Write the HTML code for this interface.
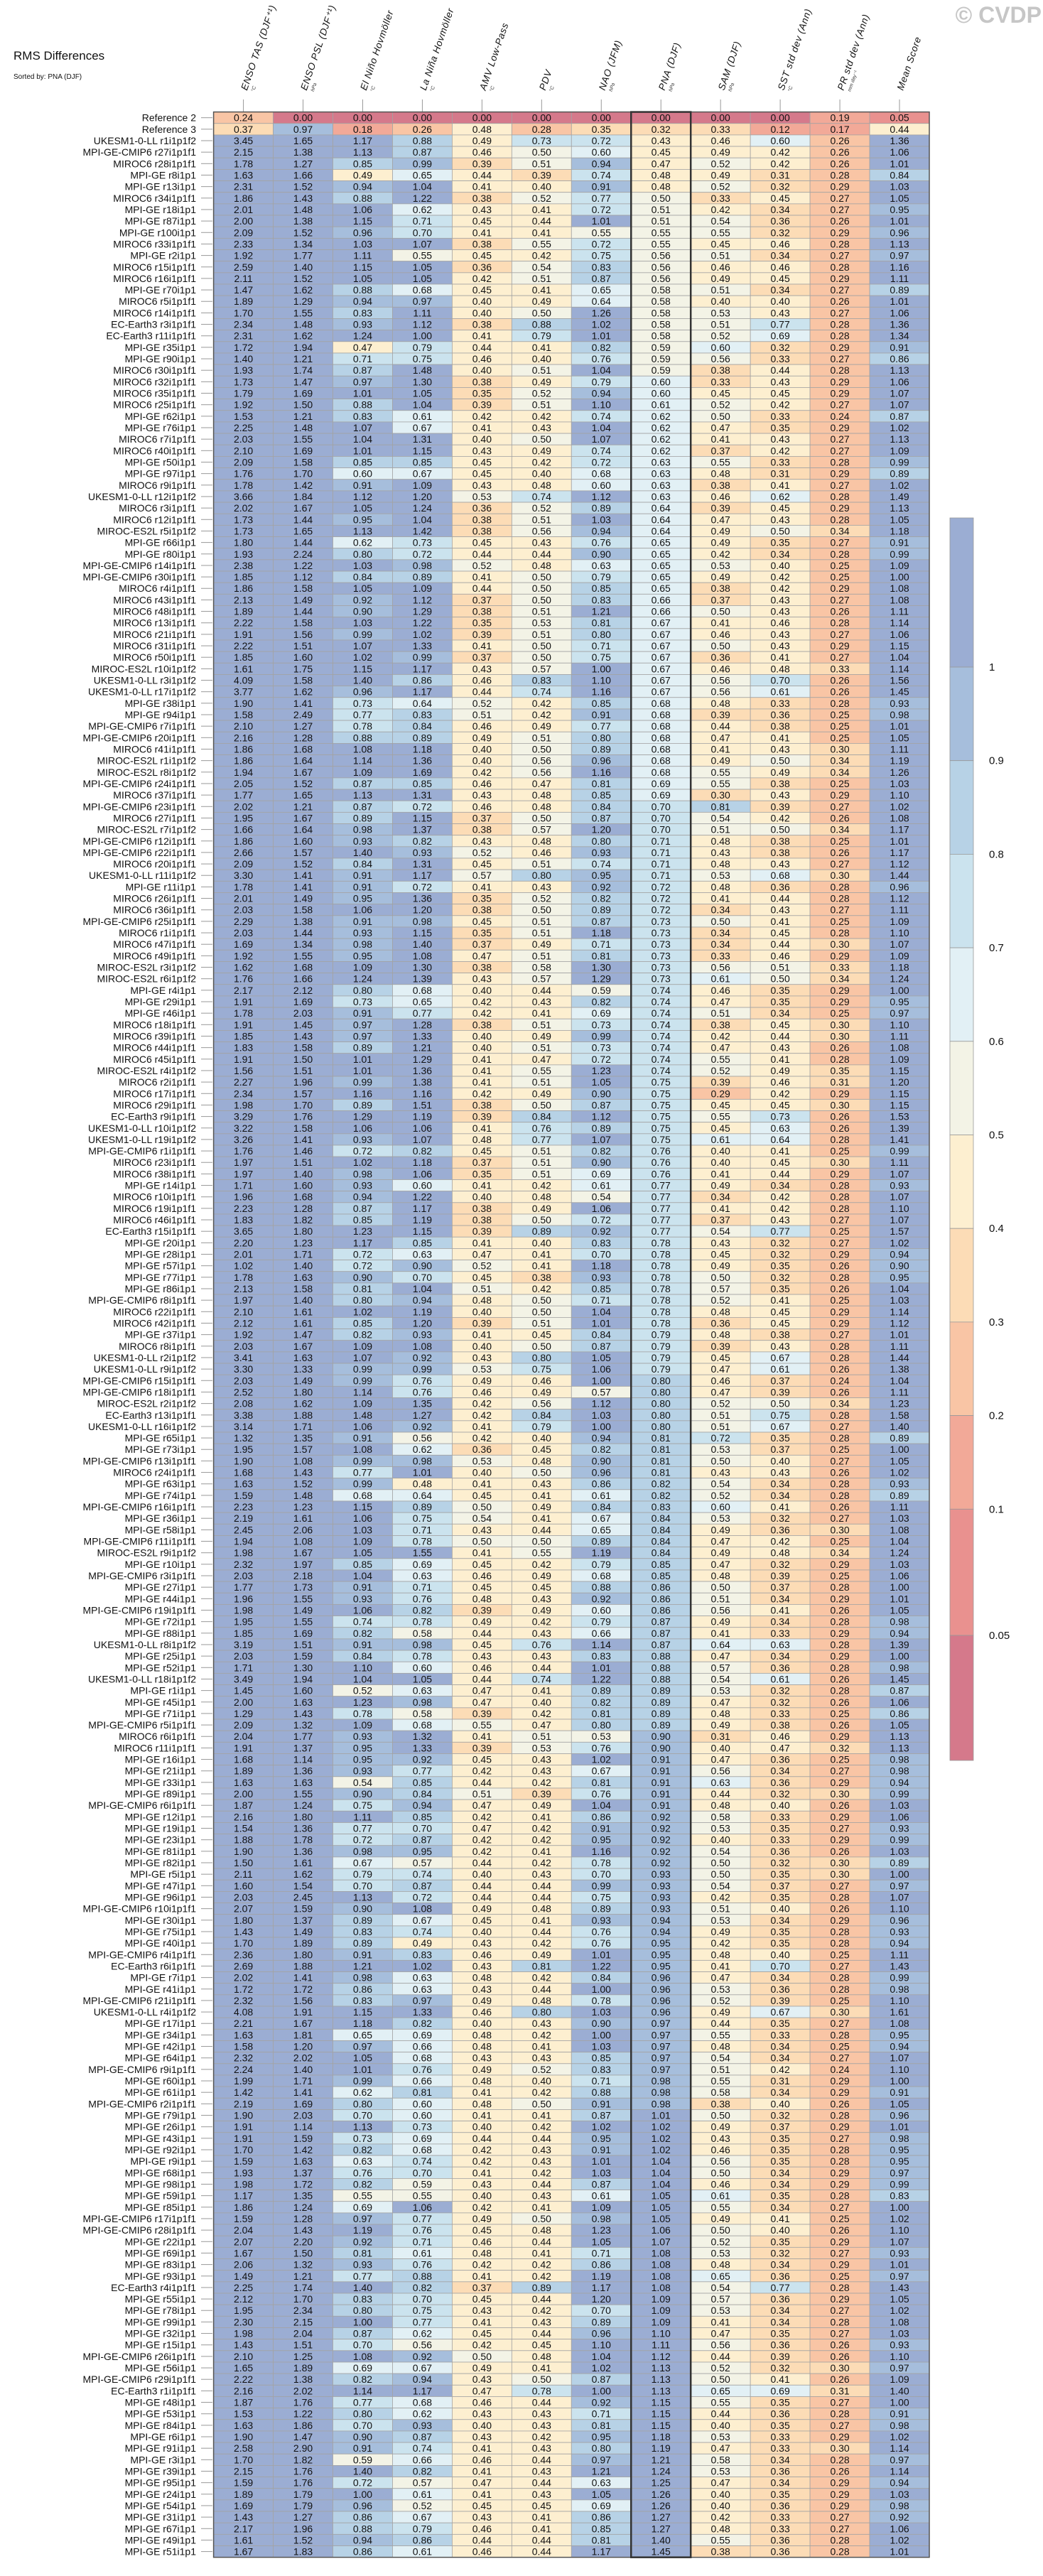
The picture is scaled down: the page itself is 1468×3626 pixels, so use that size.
<!DOCTYPE html>
<html>
<head>
<meta charset="utf-8">
<style>
  html,body{margin:0;padding:0;background:#fff;}
  body{width:1468px;height:3621px;overflow:hidden;font-family:"Liberation Sans",sans-serif;}
  svg text{font-family:"Liberation Sans",sans-serif;}
</style>
</head>
<body>
<svg id="chart" xmlns="http://www.w3.org/2000/svg" width="1468" height="3621" viewBox="0 0 1468 3621">
  <text x="19" y="84" font-size="17" fill="#111">RMS Differences</text>
  <text x="19" y="111" font-size="10" fill="#111">Sorted by: PNA (DJF)</text>
  <text x="1466" y="32" font-size="32" font-weight="bold" fill="#c6c6c6" text-anchor="end">© CVDP</text>
  <g id="headers"></g>
  <g id="rowlabels"></g>
  <g id="cells"></g>
  <g id="frame"></g>
  <g id="colorbar"></g>
</svg>
<script>
const columnLabels = ["ENSO TAS (DJF⁺¹)","ENSO PSL (DJF⁺¹)","El Niño Hovmöller","La Niña Hovmöller","AMV Low-Pass","PDV","NAO (JFM)","PNA (DJF)","SAM (DJF)","SST std dev (Ann)","PR std dev (Ann)","Mean Score"];
const columnUnits = ["°C","hPa","°C","°C","°C","°C","hPa","hPa","hPa","°C","mm day⁻¹",""];
const colorbarTicks = ["1","0.9","0.8","0.7","0.6","0.5","0.4","0.3","0.2","0.1","0.05"];
const binEdges = [0.05,0.1,0.2,0.3,0.4,0.5,0.6,0.7,0.8,0.9,1.0];
const rowNames = ["Reference 2","Reference 3","UKESM1-0-LL r1i1p1f2","MPI-GE-CMIP6 r27i1p1f1","MIROC6 r28i1p1f1","MPI-GE r8i1p1","MPI-GE r13i1p1","MIROC6 r34i1p1f1","MPI-GE r18i1p1","MPI-GE r87i1p1","MPI-GE r100i1p1","MIROC6 r33i1p1f1","MPI-GE r2i1p1","MIROC6 r15i1p1f1","MIROC6 r16i1p1f1","MPI-GE r70i1p1","MIROC6 r5i1p1f1","MIROC6 r14i1p1f1","EC-Earth3 r3i1p1f1","EC-Earth3 r11i1p1f1","MPI-GE r35i1p1","MPI-GE r90i1p1","MIROC6 r30i1p1f1","MIROC6 r32i1p1f1","MIROC6 r35i1p1f1","MIROC6 r25i1p1f1","MPI-GE r62i1p1","MPI-GE r76i1p1","MIROC6 r7i1p1f1","MIROC6 r40i1p1f1","MPI-GE r50i1p1","MPI-GE r97i1p1","MIROC6 r9i1p1f1","UKESM1-0-LL r12i1p1f2","MIROC6 r3i1p1f1","MIROC6 r12i1p1f1","MIROC-ES2L r5i1p1f2","MPI-GE r66i1p1","MPI-GE r80i1p1","MPI-GE-CMIP6 r14i1p1f1","MPI-GE-CMIP6 r30i1p1f1","MIROC6 r4i1p1f1","MIROC6 r43i1p1f1","MIROC6 r48i1p1f1","MIROC6 r13i1p1f1","MIROC6 r21i1p1f1","MIROC6 r31i1p1f1","MIROC6 r50i1p1f1","MIROC-ES2L r10i1p1f2","UKESM1-0-LL r3i1p1f2","UKESM1-0-LL r17i1p1f2","MPI-GE r38i1p1","MPI-GE r94i1p1","MPI-GE-CMIP6 r7i1p1f1","MPI-GE-CMIP6 r20i1p1f1","MIROC6 r41i1p1f1","MIROC-ES2L r1i1p1f2","MIROC-ES2L r8i1p1f2","MPI-GE-CMIP6 r24i1p1f1","MIROC6 r37i1p1f1","MPI-GE-CMIP6 r23i1p1f1","MIROC6 r27i1p1f1","MIROC-ES2L r7i1p1f2","MPI-GE-CMIP6 r12i1p1f1","MPI-GE-CMIP6 r22i1p1f1","MIROC6 r20i1p1f1","UKESM1-0-LL r11i1p1f2","MPI-GE r11i1p1","MIROC6 r26i1p1f1","MIROC6 r36i1p1f1","MPI-GE-CMIP6 r25i1p1f1","MIROC6 r1i1p1f1","MIROC6 r47i1p1f1","MIROC6 r49i1p1f1","MIROC-ES2L r3i1p1f2","MIROC-ES2L r6i1p1f2","MPI-GE r4i1p1","MPI-GE r29i1p1","MPI-GE r46i1p1","MIROC6 r18i1p1f1","MIROC6 r39i1p1f1","MIROC6 r44i1p1f1","MIROC6 r45i1p1f1","MIROC-ES2L r4i1p1f2","MIROC6 r2i1p1f1","MIROC6 r17i1p1f1","MIROC6 r29i1p1f1","EC-Earth3 r9i1p1f1","UKESM1-0-LL r10i1p1f2","UKESM1-0-LL r19i1p1f2","MPI-GE-CMIP6 r1i1p1f1","MIROC6 r23i1p1f1","MIROC6 r38i1p1f1","MPI-GE r14i1p1","MIROC6 r10i1p1f1","MIROC6 r19i1p1f1","MIROC6 r46i1p1f1","EC-Earth3 r15i1p1f1","MPI-GE r20i1p1","MPI-GE r28i1p1","MPI-GE r57i1p1","MPI-GE r77i1p1","MPI-GE r86i1p1","MPI-GE-CMIP6 r8i1p1f1","MIROC6 r22i1p1f1","MIROC6 r42i1p1f1","MPI-GE r37i1p1","MIROC6 r8i1p1f1","UKESM1-0-LL r2i1p1f2","UKESM1-0-LL r9i1p1f2","MPI-GE-CMIP6 r15i1p1f1","MPI-GE-CMIP6 r18i1p1f1","MIROC-ES2L r2i1p1f2","EC-Earth3 r13i1p1f1","UKESM1-0-LL r16i1p1f2","MPI-GE r65i1p1","MPI-GE r73i1p1","MPI-GE-CMIP6 r13i1p1f1","MIROC6 r24i1p1f1","MPI-GE r63i1p1","MPI-GE r74i1p1","MPI-GE-CMIP6 r16i1p1f1","MPI-GE r36i1p1","MPI-GE r58i1p1","MPI-GE-CMIP6 r11i1p1f1","MIROC-ES2L r9i1p1f2","MPI-GE r10i1p1","MPI-GE-CMIP6 r3i1p1f1","MPI-GE r27i1p1","MPI-GE r44i1p1","MPI-GE-CMIP6 r19i1p1f1","MPI-GE r72i1p1","MPI-GE r88i1p1","UKESM1-0-LL r8i1p1f2","MPI-GE r25i1p1","MPI-GE r52i1p1","UKESM1-0-LL r18i1p1f2","MPI-GE r1i1p1","MPI-GE r45i1p1","MPI-GE r71i1p1","MPI-GE-CMIP6 r5i1p1f1","MIROC6 r6i1p1f1","MIROC6 r11i1p1f1","MPI-GE r16i1p1","MPI-GE r21i1p1","MPI-GE r33i1p1","MPI-GE r89i1p1","MPI-GE-CMIP6 r6i1p1f1","MPI-GE r12i1p1","MPI-GE r19i1p1","MPI-GE r23i1p1","MPI-GE r81i1p1","MPI-GE r82i1p1","MPI-GE r5i1p1","MPI-GE r47i1p1","MPI-GE r96i1p1","MPI-GE-CMIP6 r10i1p1f1","MPI-GE r30i1p1","MPI-GE r75i1p1","MPI-GE r40i1p1","MPI-GE-CMIP6 r4i1p1f1","EC-Earth3 r6i1p1f1","MPI-GE r7i1p1","MPI-GE r41i1p1","MPI-GE-CMIP6 r21i1p1f1","UKESM1-0-LL r4i1p1f2","MPI-GE r17i1p1","MPI-GE r34i1p1","MPI-GE r42i1p1","MPI-GE r64i1p1","MPI-GE-CMIP6 r9i1p1f1","MPI-GE r60i1p1","MPI-GE r61i1p1","MPI-GE-CMIP6 r2i1p1f1","MPI-GE r79i1p1","MPI-GE r26i1p1","MPI-GE r43i1p1","MPI-GE r92i1p1","MPI-GE r9i1p1","MPI-GE r68i1p1","MPI-GE r98i1p1","MPI-GE r59i1p1","MPI-GE r85i1p1","MPI-GE-CMIP6 r17i1p1f1","MPI-GE-CMIP6 r28i1p1f1","MPI-GE r22i1p1","MPI-GE r69i1p1","MPI-GE r83i1p1","MPI-GE r93i1p1","EC-Earth3 r4i1p1f1","MPI-GE r55i1p1","MPI-GE r78i1p1","MPI-GE r99i1p1","MPI-GE r32i1p1","MPI-GE r15i1p1","MPI-GE-CMIP6 r26i1p1f1","MPI-GE r56i1p1","MPI-GE-CMIP6 r29i1p1f1","EC-Earth3 r1i1p1f1","MPI-GE r48i1p1","MPI-GE r53i1p1","MPI-GE r84i1p1","MPI-GE r6i1p1","MPI-GE r91i1p1","MPI-GE r3i1p1","MPI-GE r39i1p1","MPI-GE r95i1p1","MPI-GE r24i1p1","MPI-GE r54i1p1","MPI-GE r31i1p1","MPI-GE r67i1p1","MPI-GE r49i1p1","MPI-GE r51i1p1"];
const rowValues = [
[0.24,0.00,0.00,0.00,0.00,0.00,0.00,0.00,0.00,0.00,0.19,0.05],
[0.37,0.97,0.18,0.26,0.48,0.28,0.35,0.32,0.33,0.12,0.17,0.44],
[3.45,1.65,1.17,0.88,0.49,0.73,0.72,0.43,0.46,0.60,0.26,1.36],
[2.15,1.38,1.13,0.87,0.46,0.50,0.60,0.45,0.49,0.42,0.26,1.06],
[1.78,1.27,0.85,0.99,0.39,0.51,0.94,0.47,0.52,0.42,0.26,1.01],
[1.63,1.66,0.49,0.65,0.44,0.39,0.74,0.48,0.49,0.31,0.28,0.84],
[2.31,1.52,0.94,1.04,0.41,0.40,0.91,0.48,0.52,0.32,0.29,1.03],
[1.86,1.43,0.88,1.22,0.38,0.52,0.77,0.50,0.33,0.45,0.27,1.05],
[2.01,1.48,1.06,0.62,0.43,0.41,0.72,0.51,0.42,0.34,0.27,0.95],
[2.00,1.38,1.15,0.71,0.45,0.44,1.01,0.51,0.54,0.36,0.26,1.01],
[2.09,1.52,0.96,0.70,0.41,0.41,0.55,0.55,0.55,0.32,0.29,0.96],
[2.33,1.34,1.03,1.07,0.38,0.55,0.72,0.55,0.45,0.46,0.28,1.13],
[1.92,1.77,1.11,0.55,0.45,0.42,0.75,0.56,0.51,0.34,0.27,0.97],
[2.59,1.40,1.15,1.05,0.36,0.54,0.83,0.56,0.46,0.46,0.28,1.16],
[2.11,1.52,1.05,1.05,0.42,0.51,0.87,0.56,0.49,0.45,0.29,1.11],
[1.47,1.62,0.88,0.68,0.45,0.41,0.65,0.58,0.51,0.34,0.27,0.89],
[1.89,1.29,0.94,0.97,0.40,0.49,0.64,0.58,0.40,0.40,0.26,1.01],
[1.70,1.55,0.83,1.11,0.40,0.50,1.26,0.58,0.53,0.43,0.27,1.06],
[2.34,1.48,0.93,1.12,0.38,0.88,1.02,0.58,0.51,0.77,0.28,1.36],
[2.31,1.62,1.24,1.00,0.41,0.79,1.01,0.58,0.52,0.69,0.28,1.34],
[1.72,1.94,0.47,0.79,0.44,0.41,0.82,0.59,0.60,0.32,0.29,0.91],
[1.40,1.21,0.71,0.75,0.46,0.40,0.76,0.59,0.56,0.33,0.27,0.86],
[1.93,1.74,0.87,1.48,0.40,0.51,1.04,0.59,0.38,0.44,0.28,1.13],
[1.73,1.47,0.97,1.30,0.38,0.49,0.79,0.60,0.33,0.43,0.29,1.06],
[1.79,1.69,1.01,1.05,0.35,0.52,0.94,0.60,0.45,0.45,0.29,1.07],
[1.92,1.50,0.88,1.04,0.39,0.51,1.10,0.61,0.52,0.42,0.27,1.07],
[1.53,1.21,0.83,0.61,0.42,0.42,0.74,0.62,0.50,0.33,0.24,0.87],
[2.25,1.48,1.07,0.67,0.41,0.43,1.04,0.62,0.47,0.35,0.29,1.02],
[2.03,1.55,1.04,1.31,0.40,0.50,1.07,0.62,0.41,0.43,0.27,1.13],
[2.10,1.69,1.01,1.15,0.43,0.49,0.74,0.62,0.37,0.42,0.27,1.09],
[2.09,1.58,0.85,0.85,0.45,0.42,0.72,0.63,0.55,0.33,0.28,0.99],
[1.76,1.70,0.60,0.67,0.45,0.40,0.68,0.63,0.48,0.31,0.29,0.89],
[1.78,1.42,0.91,1.09,0.43,0.48,0.60,0.63,0.38,0.41,0.27,1.02],
[3.66,1.84,1.12,1.20,0.53,0.74,1.12,0.63,0.46,0.62,0.28,1.49],
[2.02,1.67,1.05,1.24,0.36,0.52,0.89,0.64,0.39,0.45,0.29,1.13],
[1.73,1.44,0.95,1.04,0.38,0.51,1.03,0.64,0.47,0.43,0.28,1.05],
[1.73,1.65,1.13,1.42,0.38,0.56,0.94,0.64,0.49,0.50,0.34,1.18],
[1.80,1.44,0.62,0.73,0.45,0.43,0.76,0.65,0.49,0.35,0.27,0.91],
[1.93,2.24,0.80,0.72,0.44,0.44,0.90,0.65,0.42,0.34,0.28,0.99],
[2.38,1.22,1.03,0.98,0.52,0.48,0.63,0.65,0.53,0.40,0.25,1.09],
[1.85,1.12,0.84,0.89,0.41,0.50,0.79,0.65,0.49,0.42,0.25,1.00],
[1.86,1.58,1.05,1.09,0.44,0.50,0.85,0.65,0.38,0.42,0.29,1.08],
[2.13,1.49,0.92,1.12,0.37,0.50,0.83,0.66,0.37,0.43,0.27,1.08],
[1.89,1.44,0.90,1.29,0.38,0.51,1.21,0.66,0.50,0.43,0.26,1.11],
[2.22,1.58,1.03,1.22,0.35,0.53,0.81,0.67,0.41,0.46,0.28,1.14],
[1.91,1.56,0.99,1.02,0.39,0.51,0.80,0.67,0.46,0.43,0.27,1.06],
[2.22,1.51,1.07,1.33,0.41,0.50,0.71,0.67,0.50,0.43,0.29,1.15],
[1.85,1.60,1.02,0.99,0.37,0.50,0.75,0.67,0.36,0.41,0.27,1.04],
[1.61,1.75,1.15,1.17,0.43,0.57,1.00,0.67,0.46,0.48,0.33,1.14],
[4.09,1.58,1.40,0.86,0.46,0.83,1.10,0.67,0.56,0.70,0.26,1.56],
[3.77,1.62,0.96,1.17,0.44,0.74,1.16,0.67,0.56,0.61,0.26,1.45],
[1.90,1.41,0.73,0.64,0.52,0.42,0.85,0.68,0.48,0.33,0.28,0.93],
[1.58,2.49,0.77,0.83,0.51,0.42,0.91,0.68,0.39,0.36,0.25,0.98],
[2.10,1.27,0.78,0.84,0.46,0.49,0.77,0.68,0.44,0.38,0.25,1.01],
[2.16,1.28,0.88,0.89,0.49,0.51,0.80,0.68,0.47,0.41,0.25,1.05],
[1.86,1.68,1.08,1.18,0.40,0.50,0.89,0.68,0.41,0.43,0.30,1.11],
[1.86,1.64,1.14,1.36,0.40,0.56,0.96,0.68,0.49,0.50,0.34,1.19],
[1.94,1.67,1.09,1.69,0.42,0.56,1.16,0.68,0.55,0.49,0.34,1.26],
[2.05,1.52,0.87,0.85,0.46,0.47,0.81,0.69,0.55,0.38,0.25,1.03],
[1.77,1.65,1.13,1.31,0.43,0.48,0.85,0.69,0.30,0.43,0.29,1.10],
[2.02,1.21,0.87,0.72,0.46,0.48,0.84,0.70,0.81,0.39,0.27,1.02],
[1.95,1.67,0.89,1.15,0.37,0.50,0.87,0.70,0.54,0.42,0.26,1.08],
[1.66,1.64,0.98,1.37,0.38,0.57,1.20,0.70,0.51,0.50,0.34,1.17],
[1.86,1.60,0.93,0.82,0.43,0.48,0.80,0.71,0.48,0.38,0.25,1.01],
[2.66,1.57,1.40,0.93,0.52,0.46,0.93,0.71,0.43,0.38,0.26,1.17],
[2.09,1.52,0.84,1.31,0.45,0.51,0.74,0.71,0.48,0.43,0.27,1.12],
[3.30,1.41,0.91,1.17,0.57,0.80,0.95,0.71,0.53,0.68,0.30,1.44],
[1.78,1.41,0.91,0.72,0.41,0.43,0.92,0.72,0.48,0.36,0.28,0.96],
[2.01,1.49,0.95,1.36,0.35,0.52,0.82,0.72,0.41,0.44,0.28,1.12],
[2.03,1.58,1.06,1.20,0.38,0.50,0.89,0.72,0.34,0.43,0.27,1.11],
[2.29,1.38,0.91,0.98,0.45,0.51,0.87,0.73,0.50,0.41,0.25,1.09],
[2.03,1.44,0.93,1.15,0.35,0.51,1.18,0.73,0.34,0.45,0.28,1.10],
[1.69,1.34,0.98,1.40,0.37,0.49,0.71,0.73,0.34,0.44,0.30,1.07],
[1.92,1.55,0.95,1.08,0.47,0.51,0.81,0.73,0.33,0.46,0.29,1.09],
[1.62,1.68,1.09,1.30,0.38,0.58,1.30,0.73,0.56,0.51,0.33,1.18],
[1.76,1.66,1.24,1.39,0.43,0.57,1.29,0.73,0.61,0.50,0.34,1.24],
[2.17,2.12,0.80,0.68,0.40,0.44,0.59,0.74,0.46,0.35,0.29,1.00],
[1.91,1.69,0.73,0.65,0.42,0.43,0.82,0.74,0.47,0.35,0.29,0.95],
[1.78,2.03,0.91,0.77,0.42,0.41,0.69,0.74,0.51,0.34,0.25,0.97],
[1.91,1.45,0.97,1.28,0.38,0.51,0.73,0.74,0.38,0.45,0.30,1.10],
[1.85,1.43,0.97,1.33,0.40,0.49,0.99,0.74,0.42,0.44,0.30,1.11],
[1.83,1.58,0.89,1.21,0.40,0.51,0.73,0.74,0.47,0.43,0.26,1.08],
[1.91,1.50,1.01,1.29,0.41,0.47,0.72,0.74,0.55,0.41,0.28,1.09],
[1.56,1.51,1.01,1.36,0.41,0.55,1.23,0.74,0.52,0.49,0.35,1.15],
[2.27,1.96,0.99,1.38,0.41,0.51,1.05,0.75,0.39,0.46,0.31,1.20],
[2.34,1.57,1.16,1.16,0.42,0.49,0.90,0.75,0.29,0.42,0.29,1.15],
[1.98,1.70,0.89,1.51,0.38,0.50,0.87,0.75,0.45,0.45,0.30,1.15],
[3.29,1.76,1.29,1.19,0.39,0.84,1.12,0.75,0.55,0.73,0.26,1.53],
[3.22,1.58,1.06,1.06,0.41,0.76,0.89,0.75,0.45,0.63,0.26,1.39],
[3.26,1.41,0.93,1.07,0.48,0.77,1.07,0.75,0.61,0.64,0.28,1.41],
[1.76,1.46,0.72,0.82,0.45,0.51,0.82,0.76,0.40,0.41,0.25,0.99],
[1.97,1.51,1.02,1.18,0.37,0.51,0.90,0.76,0.40,0.45,0.30,1.11],
[1.97,1.40,0.98,1.06,0.35,0.51,0.69,0.76,0.41,0.44,0.29,1.07],
[1.71,1.60,0.93,0.60,0.41,0.42,0.61,0.77,0.49,0.34,0.28,0.93],
[1.96,1.68,0.94,1.22,0.40,0.48,0.54,0.77,0.34,0.42,0.28,1.07],
[2.23,1.28,0.87,1.17,0.38,0.49,1.06,0.77,0.41,0.42,0.28,1.10],
[1.83,1.82,0.85,1.19,0.38,0.50,0.72,0.77,0.37,0.43,0.27,1.07],
[3.65,1.80,1.23,1.15,0.39,0.89,0.92,0.77,0.54,0.77,0.25,1.57],
[2.20,1.23,1.17,0.85,0.41,0.40,0.83,0.78,0.43,0.32,0.27,1.02],
[2.01,1.71,0.72,0.63,0.47,0.41,0.70,0.78,0.45,0.32,0.29,0.94],
[1.02,1.40,0.72,0.90,0.52,0.41,1.18,0.78,0.49,0.35,0.26,0.90],
[1.78,1.63,0.90,0.70,0.45,0.38,0.93,0.78,0.50,0.32,0.28,0.95],
[2.13,1.58,0.81,1.04,0.51,0.42,0.85,0.78,0.57,0.35,0.26,1.04],
[1.97,1.40,0.80,0.94,0.48,0.50,0.71,0.78,0.52,0.41,0.25,1.03],
[2.10,1.61,1.02,1.19,0.40,0.50,1.04,0.78,0.48,0.45,0.29,1.14],
[2.12,1.61,0.85,1.20,0.39,0.51,1.01,0.78,0.36,0.45,0.29,1.12],
[1.92,1.47,0.82,0.93,0.41,0.45,0.84,0.79,0.48,0.38,0.27,1.01],
[2.03,1.67,1.09,1.08,0.40,0.50,0.87,0.79,0.39,0.43,0.28,1.11],
[3.41,1.63,1.07,0.92,0.43,0.80,1.05,0.79,0.45,0.67,0.28,1.44],
[3.30,1.33,0.99,0.99,0.53,0.75,1.06,0.79,0.47,0.61,0.26,1.38],
[2.03,1.49,0.99,0.76,0.49,0.46,1.00,0.80,0.46,0.37,0.24,1.04],
[2.52,1.80,1.14,0.76,0.46,0.49,0.57,0.80,0.47,0.39,0.26,1.11],
[2.08,1.62,1.09,1.35,0.42,0.56,1.12,0.80,0.52,0.50,0.34,1.23],
[3.38,1.88,1.48,1.27,0.42,0.84,1.03,0.80,0.51,0.75,0.28,1.58],
[3.14,1.71,1.06,0.92,0.41,0.79,1.00,0.80,0.51,0.67,0.27,1.40],
[1.32,1.35,0.91,0.56,0.42,0.40,0.94,0.81,0.72,0.35,0.28,0.89],
[1.95,1.57,1.08,0.62,0.36,0.45,0.82,0.81,0.53,0.37,0.25,1.00],
[1.90,1.08,0.99,0.98,0.53,0.48,0.90,0.81,0.50,0.40,0.27,1.05],
[1.68,1.43,0.77,1.01,0.40,0.50,0.96,0.81,0.43,0.43,0.26,1.02],
[1.63,1.52,0.99,0.48,0.41,0.43,0.86,0.82,0.54,0.34,0.28,0.93],
[1.59,1.48,0.68,0.64,0.45,0.41,0.61,0.82,0.52,0.34,0.28,0.89],
[2.23,1.23,1.15,0.89,0.50,0.49,0.84,0.83,0.60,0.41,0.26,1.11],
[2.19,1.61,1.06,0.75,0.54,0.41,0.67,0.84,0.53,0.32,0.27,1.03],
[2.45,2.06,1.03,0.71,0.43,0.44,0.65,0.84,0.49,0.36,0.30,1.08],
[1.94,1.08,1.09,0.78,0.50,0.50,0.89,0.84,0.47,0.42,0.25,1.04],
[1.98,1.67,1.05,1.55,0.41,0.55,1.19,0.84,0.49,0.48,0.34,1.24],
[2.32,1.97,0.85,0.69,0.45,0.42,0.79,0.85,0.47,0.32,0.29,1.03],
[2.03,2.18,1.04,0.63,0.46,0.49,0.68,0.85,0.48,0.39,0.25,1.06],
[1.77,1.73,0.91,0.71,0.45,0.45,0.88,0.86,0.50,0.37,0.28,1.00],
[1.96,1.55,0.93,0.76,0.48,0.43,0.92,0.86,0.51,0.34,0.29,1.01],
[1.98,1.49,1.06,0.82,0.39,0.49,0.60,0.86,0.56,0.41,0.26,1.05],
[1.95,1.55,0.74,0.78,0.49,0.42,0.79,0.87,0.49,0.34,0.28,0.98],
[1.85,1.69,0.82,0.58,0.44,0.43,0.66,0.87,0.41,0.33,0.29,0.94],
[3.19,1.51,0.91,0.98,0.45,0.76,1.14,0.87,0.64,0.63,0.28,1.39],
[2.03,1.59,0.84,0.78,0.43,0.43,0.83,0.88,0.47,0.34,0.29,1.00],
[1.71,1.30,1.10,0.60,0.46,0.44,1.01,0.88,0.57,0.36,0.28,0.98],
[3.49,1.94,1.04,1.05,0.44,0.74,1.22,0.88,0.54,0.61,0.26,1.45],
[1.45,1.60,0.52,0.63,0.47,0.41,0.89,0.89,0.53,0.32,0.28,0.87],
[2.00,1.63,1.23,0.98,0.47,0.40,0.82,0.89,0.47,0.32,0.26,1.06],
[1.29,1.43,0.78,0.58,0.39,0.42,0.81,0.89,0.48,0.33,0.25,0.86],
[2.09,1.32,1.09,0.68,0.55,0.47,0.80,0.89,0.49,0.38,0.26,1.05],
[2.04,1.77,0.93,1.32,0.41,0.51,0.53,0.90,0.31,0.46,0.29,1.13],
[1.91,1.37,0.95,1.33,0.39,0.53,0.76,0.90,0.40,0.47,0.32,1.13],
[1.68,1.14,0.95,0.92,0.45,0.43,1.02,0.91,0.47,0.36,0.25,0.98],
[1.89,1.36,0.93,0.77,0.42,0.43,0.67,0.91,0.56,0.34,0.27,0.98],
[1.63,1.63,0.54,0.85,0.44,0.42,0.81,0.91,0.63,0.36,0.29,0.94],
[2.00,1.55,0.90,0.84,0.51,0.39,0.76,0.91,0.44,0.32,0.30,0.99],
[1.87,1.24,0.75,0.94,0.47,0.49,1.04,0.91,0.48,0.40,0.26,1.03],
[2.16,1.80,1.11,0.85,0.42,0.41,0.86,0.92,0.58,0.33,0.29,1.06],
[1.54,1.36,0.77,0.70,0.47,0.42,0.91,0.92,0.53,0.35,0.27,0.93],
[1.88,1.78,0.72,0.87,0.42,0.42,0.95,0.92,0.40,0.33,0.29,0.99],
[1.90,1.36,0.98,0.95,0.42,0.41,1.16,0.92,0.54,0.36,0.26,1.03],
[1.50,1.61,0.67,0.57,0.44,0.42,0.78,0.92,0.50,0.32,0.30,0.89],
[2.11,1.62,0.79,0.74,0.40,0.43,0.70,0.93,0.50,0.35,0.30,1.00],
[1.60,1.54,0.70,0.87,0.44,0.44,0.99,0.93,0.54,0.37,0.27,0.97],
[2.03,2.45,1.13,0.72,0.44,0.44,0.75,0.93,0.42,0.35,0.28,1.07],
[2.07,1.59,0.90,1.08,0.49,0.48,0.89,0.93,0.51,0.40,0.26,1.10],
[1.80,1.37,0.89,0.67,0.45,0.41,0.93,0.94,0.53,0.34,0.29,0.96],
[1.43,1.49,0.83,0.74,0.40,0.44,0.76,0.94,0.49,0.35,0.28,0.93],
[1.70,1.89,0.89,0.49,0.43,0.42,0.76,0.95,0.42,0.35,0.28,0.94],
[2.36,1.80,0.91,0.83,0.46,0.49,1.01,0.95,0.48,0.40,0.25,1.11],
[2.69,1.88,1.21,1.02,0.43,0.81,1.22,0.95,0.41,0.70,0.27,1.43],
[2.02,1.41,0.98,0.63,0.48,0.42,0.84,0.96,0.47,0.34,0.28,0.99],
[1.72,1.72,0.86,0.63,0.43,0.44,1.00,0.96,0.53,0.36,0.28,0.98],
[2.32,1.56,0.83,0.97,0.49,0.48,0.78,0.96,0.52,0.39,0.25,1.10],
[4.08,1.91,1.15,1.33,0.46,0.80,1.03,0.96,0.49,0.67,0.30,1.61],
[2.21,1.67,1.18,0.82,0.40,0.43,0.90,0.97,0.44,0.35,0.27,1.08],
[1.63,1.81,0.65,0.69,0.48,0.42,1.00,0.97,0.55,0.33,0.28,0.95],
[1.58,1.20,0.97,0.66,0.48,0.41,1.03,0.97,0.48,0.34,0.25,0.94],
[2.32,2.02,1.05,0.68,0.43,0.43,0.85,0.97,0.54,0.34,0.27,1.07],
[2.24,1.40,1.01,0.76,0.49,0.52,0.83,0.97,0.51,0.42,0.24,1.10],
[1.99,1.71,0.99,0.66,0.48,0.40,0.71,0.98,0.55,0.31,0.29,1.00],
[1.42,1.41,0.62,0.81,0.41,0.42,0.88,0.98,0.58,0.34,0.29,0.91],
[2.19,1.69,0.80,0.60,0.48,0.50,0.91,0.98,0.38,0.40,0.26,1.05],
[1.90,2.03,0.70,0.60,0.41,0.41,0.87,1.01,0.50,0.32,0.28,0.96],
[1.91,1.14,1.13,0.73,0.40,0.42,1.02,1.02,0.49,0.37,0.29,1.01],
[1.91,1.59,0.73,0.69,0.44,0.44,0.95,1.02,0.43,0.35,0.27,0.98],
[1.70,1.42,0.82,0.68,0.42,0.43,0.91,1.02,0.46,0.35,0.28,0.95],
[1.59,1.63,0.63,0.74,0.42,0.43,1.01,1.04,0.56,0.35,0.28,0.95],
[1.93,1.37,0.76,0.70,0.41,0.42,1.03,1.04,0.50,0.34,0.29,0.97],
[1.98,1.72,0.82,0.59,0.43,0.44,0.87,1.04,0.46,0.34,0.29,0.99],
[1.17,1.35,0.55,0.55,0.40,0.43,0.61,1.05,0.61,0.35,0.28,0.83],
[1.86,1.24,0.69,1.06,0.42,0.41,1.09,1.05,0.55,0.34,0.27,1.00],
[1.59,1.28,0.97,0.77,0.49,0.50,0.98,1.05,0.49,0.41,0.25,1.02],
[2.04,1.43,1.19,0.76,0.45,0.48,1.23,1.06,0.50,0.40,0.26,1.10],
[2.07,2.20,0.92,0.71,0.46,0.44,1.05,1.07,0.52,0.35,0.29,1.07],
[1.67,1.50,0.81,0.61,0.48,0.41,0.71,1.08,0.53,0.32,0.27,0.93],
[2.06,1.32,0.93,0.76,0.42,0.42,0.86,1.08,0.48,0.34,0.29,1.01],
[1.49,1.21,0.77,0.88,0.41,0.42,1.19,1.08,0.65,0.36,0.25,0.97],
[2.25,1.74,1.40,0.82,0.37,0.89,1.17,1.08,0.54,0.77,0.28,1.43],
[2.12,1.70,0.83,0.70,0.45,0.44,1.20,1.09,0.57,0.36,0.29,1.05],
[1.95,2.34,0.80,0.75,0.43,0.42,0.70,1.09,0.53,0.34,0.27,1.02],
[2.30,2.15,1.00,0.77,0.41,0.43,0.89,1.09,0.41,0.34,0.28,1.08],
[1.98,2.04,0.87,0.62,0.45,0.44,0.96,1.10,0.47,0.35,0.27,1.03],
[1.43,1.51,0.70,0.56,0.42,0.45,1.10,1.11,0.56,0.36,0.26,0.93],
[2.10,1.25,1.08,0.92,0.50,0.48,1.04,1.12,0.44,0.39,0.26,1.10],
[1.65,1.89,0.69,0.67,0.49,0.41,1.02,1.13,0.52,0.32,0.30,0.97],
[2.22,1.38,0.82,0.94,0.43,0.50,0.87,1.13,0.50,0.41,0.26,1.09],
[2.16,2.02,1.14,1.17,0.47,0.78,1.00,1.13,0.65,0.69,0.31,1.40],
[1.87,1.76,0.77,0.68,0.46,0.44,0.92,1.15,0.55,0.35,0.27,1.00],
[1.53,1.22,0.80,0.62,0.43,0.43,0.71,1.15,0.44,0.36,0.28,0.91],
[1.63,1.86,0.70,0.93,0.40,0.43,0.81,1.15,0.40,0.35,0.27,0.98],
[1.90,1.47,0.90,0.87,0.43,0.42,0.95,1.18,0.53,0.33,0.29,1.02],
[2.58,2.90,0.91,0.74,0.41,0.43,0.80,1.19,0.47,0.33,0.30,1.14],
[1.70,1.82,0.59,0.66,0.46,0.44,0.97,1.21,0.58,0.34,0.28,0.97],
[2.15,1.76,1.40,0.82,0.41,0.43,1.21,1.24,0.53,0.36,0.26,1.14],
[1.59,1.76,0.72,0.57,0.47,0.44,0.63,1.25,0.47,0.34,0.29,0.94],
[1.89,1.79,1.00,0.61,0.41,0.43,1.05,1.26,0.40,0.35,0.29,1.03],
[1.69,1.79,0.96,0.52,0.45,0.45,0.69,1.26,0.40,0.36,0.29,0.98],
[1.43,1.27,0.86,0.67,0.43,0.41,0.86,1.27,0.42,0.33,0.27,0.92],
[2.17,1.96,0.88,0.79,0.46,0.41,0.85,1.27,0.48,0.33,0.27,1.06],
[1.61,1.52,0.94,0.86,0.44,0.44,0.81,1.40,0.55,0.36,0.28,1.02],
[1.67,1.83,0.86,0.61,0.46,0.44,1.17,1.45,0.38,0.36,0.28,1.01]
];

const NS = "http://www.w3.org/2000/svg";
const X0 = 300.6, CW = 83.95, Y0 = 157.6, RH = 16.16;
const binColors = ["#d5798b","#e9918f","#f2a998","#f9c5a5","#fcdcb6","#fdefd0","#f3f3e6","#e2f0f5","#cbe3ee","#b7d2e6","#a6bedc","#9badd3"];
function colX(c){ return X0 + c*CW; }
function rowY(r){ return Y0 + r*RH; }
function colorFor(v){
  const h = Math.round(v*1000);
  let k = 0;
  for (let i=0;i<binEdges.length;i++){ if (h >= Math.round(binEdges[i]*1000)) k = i+1; }
  return binColors[k];
}
function mk(tag, attrs, parent){
  const el = document.createElementNS(NS, tag);
  for (const k in attrs) el.setAttribute(k, attrs[k]);
  parent.appendChild(el);
  return el;
}
const nRows = rowNames.length, nCols = columnLabels.length;
const tableBottom = rowY(nRows);
const tableRight = colX(nCols);

const gH = document.getElementById('headers');
columnLabels.forEach((lab, c) => {
  const cx = colX(c) + CW/2;
  const tick = mk('line', {x1:cx, y1:140, x2:cx, y2:Y0, stroke:'#999', 'stroke-width':1}, gH);
  
  
  const g = mk('g', {transform:`translate(${cx+5},128) rotate(-71)`}, gH);
  
  
  const t = mk('text', {x:0, y:0, 'font-size':13.5, 'letter-spacing':0.6, fill:'#111', 'font-style':'italic'}, g);
  t.textContent = lab;
  
  
  if (columnUnits[c]) {
    const u = mk('text', {x:2, y:10, 'font-size':7, fill:'#333', 'font-style':'italic'}, g);
    u.textContent = columnUnits[c];
    
    
  }
});

const gL = document.getElementById('rowlabels');
const gC = document.getElementById('cells');
rowNames.forEach((name, r) => {
  const cy = rowY(r) + RH/2;
  const lbl = mk('text', {x:276, y:cy+5, 'font-size':14, 'text-anchor':'end', fill:'#111'}, gL);
  lbl.textContent = name;
  
  
  const tk = mk('line', {x1:283, y1:cy, x2:299, y2:cy, stroke:'#999', 'stroke-width':1}, gL);
  
  
  const vals = rowValues[r];
  vals.forEach((v, c) => {
    const rect = mk('rect', {x:colX(c), y:rowY(r), width:CW, height:RH, fill:colorFor(v), stroke:'#a3a3a3', 'stroke-width':0.8}, gC);
    
    
    const t = mk('text', {x:colX(c)+CW/2, y:cy+5, 'font-size':14, 'text-anchor':'middle', fill:'#111'}, gC);
    t.textContent = v.toFixed(2);
    
    
  });
});

const gF = document.getElementById('frame');
const outer = mk('rect', {x:X0, y:Y0, width:tableRight-X0, height:tableBottom-Y0, fill:'none', stroke:'#555', 'stroke-width':1.5}, gF);


const sortBox = mk('rect', {x:colX(7), y:Y0, width:CW, height:tableBottom-Y0, fill:'none', stroke:'#333', 'stroke-width':2.5}, gF);



const gB = document.getElementById('colorbar');
const cbX = 1337, cbW = 33, cbTop = 729, cbOne = 939, cbStep = 131.7, cbFive = 2302, cbBot = 2478;
const bounds = [cbTop];
for (let i=0;i<10;i++) bounds.push(cbOne + i*cbStep);
bounds.push(cbFive, cbBot);
for (let i=0;i<bounds.length-1;i++){
  const seg = mk('rect', {x:cbX, y:bounds[i], width:cbW, height:bounds[i+1]-bounds[i], fill:binColors[binColors.length-1-i], stroke:'#999', 'stroke-width':0.8}, gB);
  
  
}
colorbarTicks.forEach((lab, i) => {
  const y = bounds[i+1];
  const t = mk('text', {x:1392, y:y+5, 'font-size':15, fill:'#111'}, gB);
  t.textContent = lab;
  
  
});
</script>
</body>
</html>
